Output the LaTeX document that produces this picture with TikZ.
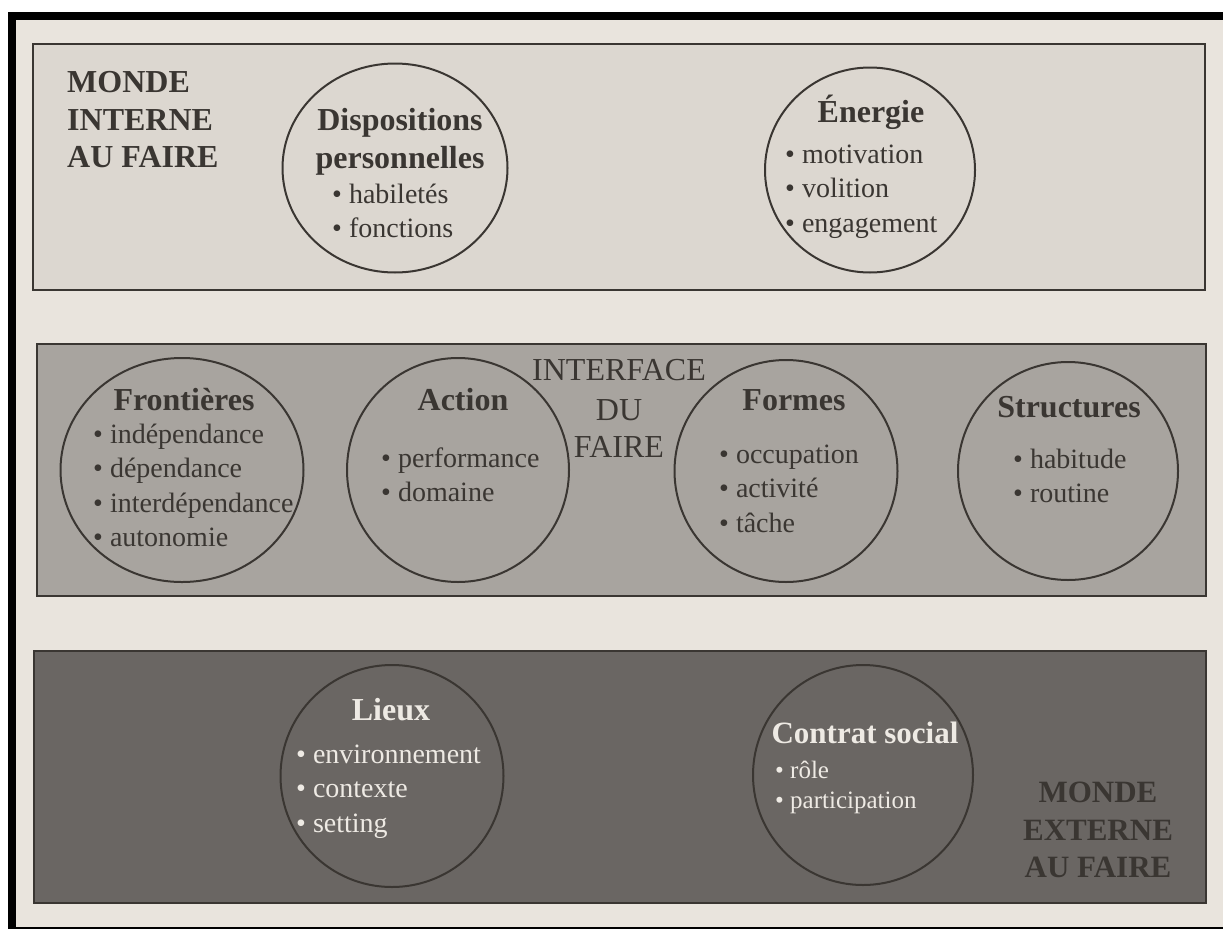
\documentclass[tikz,border=0pt]{standalone}
\usepackage{fontspec}
\setmainfont{Liberation Serif}
\usetikzlibrary{shapes.geometric}
\definecolor{seite}{HTML}{E9E4DD}
\definecolor{hell}{HTML}{DCD7D0}
\definecolor{mittel}{HTML}{A8A49F}
\definecolor{dunkel}{HTML}{6A6663}
\definecolor{linie}{HTML}{3A3632}
\definecolor{weiss}{HTML}{EEEAE4}

\begin{document}
\begin{tikzpicture}[x=1pt,y=-1pt,
	kasten/.style={draw=linie,line width=2.5pt},
	kreis/.style={ellipse,draw=linie,line width=2pt,inner sep=0pt},
	titel/.style={anchor=base,inner sep=0pt,text=linie,font=\fontsize{32}{32}\selectfont\bfseries},
	welt/.style={titel,font=\fontsize{32}{32}\selectfont},
	punkt/.style={anchor=base west,inner sep=0pt,text=linie,font=\fontsize{28}{28}\selectfont}]

\def\liste#1#2#3#4#5{
	\foreach \t [count=\i] in {#5}
		\node[punkt,#4] (#1-\i) at (#2,{#3+(\i-1)*34.5}) {\textbullet\ \t};
}

\useasboundingbox (0,0) rectangle (1223,929);

% Seite
\fill[white] (0,0) rectangle (1223,929);
\fill[black] (8,12) rectangle (1223,929);
\fill[seite] (16,20) rectangle (1223,927);

% Kaesten
\draw[kasten,fill=hell] (33,44) rectangle (1205,290);
\draw[kasten,fill=mittel] (37,344) rectangle (1206,596);
\draw[kasten,fill=dunkel] (34,651) rectangle (1206,903);

% oben
\node[titel,anchor=base west] (mi1) at (67,92) {MONDE};
\node[titel,anchor=base west] (mi2) at (67,130) {INTERNE};
\node[titel,anchor=base west] (mi3) at (67,167) {AU FAIRE};

\node[kreis,minimum width=225,minimum height=209] (disp) at (395,168) {};
\node[titel] (disp-t1) at (400,130) {Dispositions};
\node[titel] (disp-t2) at (400,168) {personnelles};
\liste{disp}{332}{203}{}{habiletés,fonctions}

\node[kreis,minimum width=210,minimum height=205] (ener) at (870,170) {};
\node[titel] (ener-t) at (871,122) {Énergie};
\liste{ener}{785}{163}{}{motivation,volition,engagement}

% Mitte
\node[kreis,minimum width=243,minimum height=224] (front) at (182,470) {};
\node[titel] (front-t) at (184,410) {Frontières};
\liste{front}{93}{443}{}{indépendance,dépendance,interdépendance,autonomie}

\node[kreis,minimum width=222,minimum height=224] (act) at (458,470) {};
\node[titel] (act-t) at (463,410) {Action};
\liste{act}{381}{467}{}{performance,domaine}

\node[welt] (if1) at (619,380) {INTERFACE};
\node[welt] (if2) at (619,420) {DU};
\node[welt] (if3) at (619,457) {FAIRE};

\node[kreis,minimum width=223,minimum height=222] (form) at (786,471) {};
\node[titel] (form-t) at (794,410) {Formes};
\liste{form}{719}{463}{}{occupation,activité,tâche}

\node[kreis,minimum width=220,minimum height=218] (struc) at (1068,471) {};
\node[titel] (struc-t) at (1069,417) {Structures};
\liste{struc}{1013}{468}{}{habitude,routine}

% unten
\node[kreis,minimum width=223,minimum height=222] (lieux) at (392,776) {};
\node[titel,text=weiss] (lieux-t) at (391,720) {Lieux};
\liste{lieux}{296}{763}{text=weiss}{environnement,contexte,setting}

\node[kreis,minimum width=220,minimum height=220] (contr) at (863,775) {};
\node[titel,text=weiss,font=\fontsize{31}{31}\selectfont\bfseries] (contr-t) at (865,743) {Contrat social};
\node[punkt,text=weiss,font=\fontsize{25}{25}\selectfont] (contr-1) at (775,778) {\textbullet\ rôle};
\node[punkt,text=weiss,font=\fontsize{25}{25}\selectfont] (contr-2) at (775,808) {\textbullet\ participation};

\node[titel,font=\fontsize{31}{31}\selectfont\bfseries] (me1) at (1098,802) {MONDE};
\node[titel,font=\fontsize{31}{31}\selectfont\bfseries] (me2) at (1098,840) {EXTERNE};
\node[titel,font=\fontsize{31}{31}\selectfont\bfseries] (me3) at (1098,877) {AU FAIRE};

\end{tikzpicture}
\end{document}
